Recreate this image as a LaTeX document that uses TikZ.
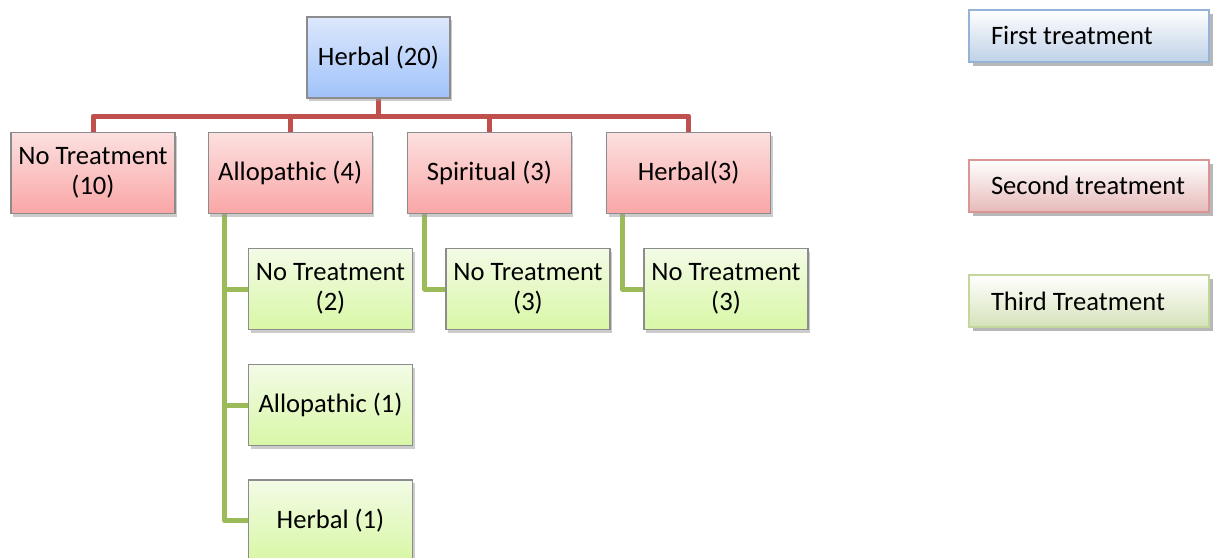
\documentclass[tikz,border=0pt]{standalone}
\usepackage{fontspec}
\setmainfont{Carlito}
\usetikzlibrary{positioning,shadows,backgrounds}
\definecolor{firsttop}{RGB}{220,232,252}
\definecolor{firstbot}{RGB}{160,194,250}
\definecolor{sectop}{RGB}{252,224,224}
\definecolor{secbot}{RGB}{250,166,166}
\definecolor{thirdtop}{RGB}{243,251,230}
\definecolor{thirdbot}{RGB}{216,247,166}
\definecolor{boxline}{RGB}{140,140,140}
\definecolor{redlink}{RGB}{192,80,77}
\definecolor{greenlink}{RGB}{155,187,89}
\definecolor{legfirst}{RGB}{149,179,215}
\definecolor{legsec}{RGB}{217,150,148}
\definecolor{legthird}{RGB}{195,214,155}

\begin{document}
\begin{tikzpicture}[
    x=0.5pt, y=-0.5pt,
    tbox/.style={draw=boxline, semithick, minimum height=40.5pt, minimum width=82pt, align=center,
        font=\fontsize{13.3}{15}\selectfont,
        drop shadow={shadow xshift=1pt, shadow yshift=-1.5pt, fill=black!40, opacity=0.5}},
    firstbox/.style={tbox, top color=firsttop, bottom color=firstbot, draw=black!45, minimum width=71.5pt},
    secbox/.style={tbox, top color=sectop, bottom color=secbot},
    thirdbox/.style={tbox, top color=thirdtop, bottom color=thirdbot},
    legbox/.style={line width=1pt, minimum height=26pt, minimum width=120pt, text width=97.5pt, align=flush left,
        font=\fontsize{13.3}{15}\selectfont,
        drop shadow={shadow xshift=2pt, shadow yshift=-2pt, fill=black!35, opacity=0.8}},
    redline/.style={draw=redlink, line width=2.5pt, line join=round},
    greenline/.style={draw=greenlink, line width=2.5pt, line join=round}
]
\useasboundingbox (0,0) rectangle (1219,557);

% First treatment
\node[firstbox] (herb20) at (378.5,57.5) {Herbal (20)};

% Second treatment
\node[secbox] (nt10) at (93,173) {No Treatment\\(10)};
\node[secbox, right=16pt of nt10] (allo4) {Allopathic (4)};
\node[secbox, right=17pt of allo4] (spir3) {Spiritual (3)};
\node[secbox, right=17pt of spir3] (herb3) {Herbal(3)};

% Third treatment
\node[thirdbox] (nt2) at (330.5,289) {No Treatment\\(2)};
\node[thirdbox, below=17pt of nt2] (allo1) {Allopathic (1)};
\node[thirdbox, below=16.5pt of allo1] (herb1) {Herbal (1)};
\node[thirdbox] (nt3a) at (528,289) {No Treatment\\(3)};
\node[thirdbox] (nt3b) at (726,289) {No Treatment\\(3)};

% Links
\coordinate (bar) at (0,116);
\begin{scope}[on background layer]
\foreach \n in {nt10,allo4,spir3,herb3}
    \draw[redline] (herb20.south) |- (bar -| \n.north) -- (\n.north);
\foreach \n in {nt2,allo1,herb1}
    \draw[greenline] ([xshift=8.5pt]allo4.south west) |- (\n.west);
\draw[greenline] ([xshift=9pt]spir3.south west) |- (nt3a.west);
\draw[greenline] ([xshift=8pt]herb3.south west) |- (nt3b.west);
\end{scope}

% Legend
\node[legbox, draw=legfirst, top color=white, bottom color=legfirst!60] (legone) at (1088.5,35.5) {First treatment};
\node[legbox, draw=legsec, top color=white, bottom color=legsec!65] (legtwo) at (1088.5,185.5) {Second treatment};
\node[legbox, draw=legthird, top color=white, bottom color=legthird!70] (legthree) at (1088.5,301) {Third Treatment};

\end{tikzpicture}
\end{document}
